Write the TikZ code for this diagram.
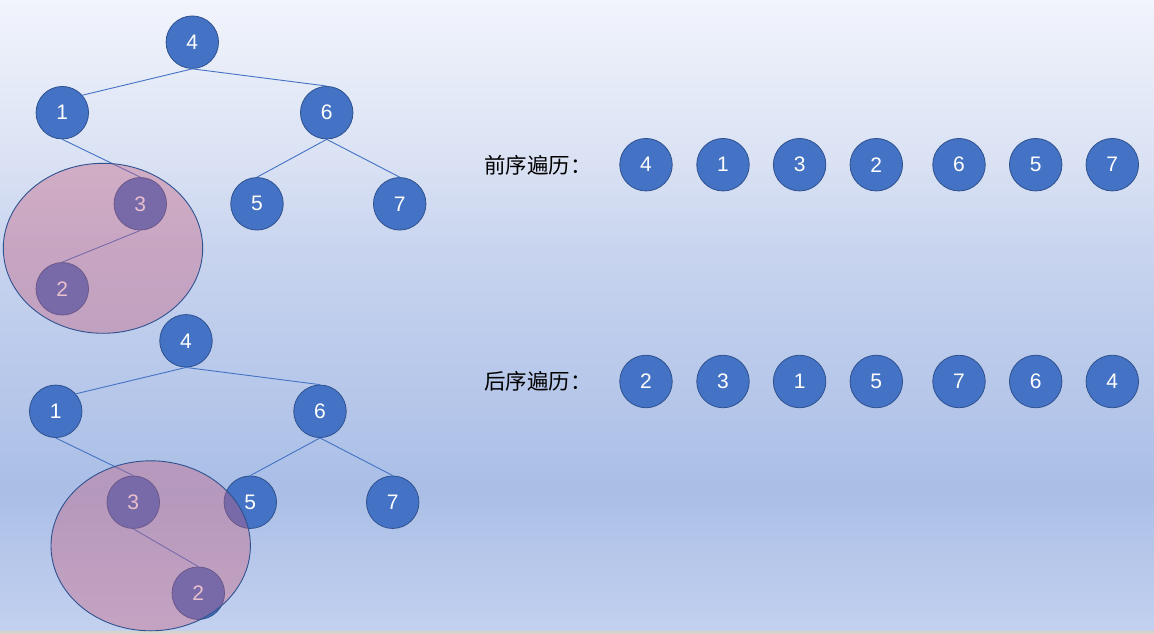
\documentclass[tikz,border=0pt]{standalone}
\usepackage{fontspec}
\setmainfont{Liberation Sans}
\newfontfamily\cjk{Noto Sans CJK SC}
\usetikzlibrary{shapes.geometric}
\definecolor{nodeblue}{RGB}{68,114,196}
\definecolor{nodeedge}{RGB}{47,82,143}
\definecolor{pinkfill}{RGB}{199,96,128}
\definecolor{bgA}{RGB}{241,244,252}
\definecolor{bgB}{RGB}{217,225,243}
\definecolor{bgC}{RGB}{200,212,239}
\definecolor{bgD}{RGB}{170,190,230}
\definecolor{bgE}{RGB}{195,209,239}
\definecolor{strip}{RGB}{214,211,202}
\begin{document}
\begin{tikzpicture}[x=1pt,y=-1pt,
  tn/.style={circle,fill=nodeblue,draw=nodeedge,line width=0.8pt,minimum size=52.5pt,inner sep=0pt,text=white,font=\fontsize{21}{21}\selectfont},
  edge/.style={draw=nodeblue,line width=0.9pt},
  hl/.style={ellipse,draw=nodeedge,line width=0.9pt,fill=pinkfill,fill opacity=0.4,text opacity=1,draw opacity=1,inner sep=0pt,minimum width=199.4pt,minimum height=170pt},
  lbl/.style={anchor=west,inner sep=0pt,font=\cjk\fontsize{21.5}{21.5}\selectfont}]
\useasboundingbox (0,0) rectangle (1154,634);
% background
\shade[top color=bgA,bottom color=bgB] (0,0) rectangle (1154,165.5);
\shade[top color=bgB,bottom color=bgC] (0,165) rectangle (1154,250.5);
\shade[top color=bgC,bottom color=bgD] (0,250) rectangle (1154,490.5);
\shade[top color=bgD,bottom color=bgE] (0,490) rectangle (1154,631);
\fill[strip] (0,630.7) rectangle (1154,634);
% top tree
\node[tn] (a4) at (192.3,42.2) {4};
\node[tn] (a1) at (62.3,112.7) {1};
\node[tn] (a6) at (326.7,112.7) {6};
\node[tn] (a3) at (140.3,203.8) {3};
\node[tn] (a5) at (257,203.8) {5};
\node[tn] (a7) at (399.7,203.8) {7};
\node[tn] (a2) at (62.3,288.8) {2};
% bottom tree
\node[tn] (b4) at (186,340.8) {4};
\node[tn] (b1) at (55.7,411.3) {1};
\node[tn] (b6) at (320,411.3) {6};
\node[tn] (b3) at (133.3,502.2) {3};
\node[tn] (b5) at (250.3,502.2) {5};
\node[tn] (b7) at (392.7,502.2) {7};
\node[tn] (b2) at (198.3,593.2) {2};
% edges
\draw[edge] (a4.south) -- (a1.41);
\draw[edge] (a4.south) -- (a6.north);
\draw[edge] (a1.south) -- (a3.north);
\draw[edge] (a3.south) -- (a2.north);
\draw[edge] (a6.south) -- (a5.north);
\draw[edge] (a6.south) -- (a7.north);
\draw[edge] (b4.south) -- (b1.41);
\draw[edge] (b4.south) -- (b6.north);
\draw[edge] (b1.south) -- (b3.north);
\draw[edge] (b3.south) -- (b2.north);
\draw[edge] (b6.south) -- (b5.north);
\draw[edge] (b6.south) -- (b7.north);
% highlight ellipses
\node[hl] (h1) at (103,248.3) {};
\node[hl] (h2) at (150.7,545.8) {};
% traversal rows
\node[lbl] (pre) at (484,165) {前序遍历：};
\node[lbl] (post) at (484,381.5) {后序遍历：};
\node[tn] (p1) at (646,164.7) {4};
\node[tn] (p2) at (723,164.7) {1};
\node[tn] (p3) at (799.6,164.7) {3};
\node[tn] (p4) at (876.3,164.7) {2};
\node[tn] (p5) at (959,164.7) {6};
\node[tn] (p6) at (1035.7,164.7) {5};
\node[tn] (p7) at (1112.3,164.7) {7};
\node[tn] (q1) at (646,381.5) {2};
\node[tn] (q2) at (723,381.5) {3};
\node[tn] (q3) at (799.6,381.5) {1};
\node[tn] (q4) at (876.3,381.5) {5};
\node[tn] (q5) at (959,381.5) {7};
\node[tn] (q6) at (1035.7,381.5) {6};
\node[tn] (q7) at (1112.3,381.5) {4};
\end{tikzpicture}
\end{document}
